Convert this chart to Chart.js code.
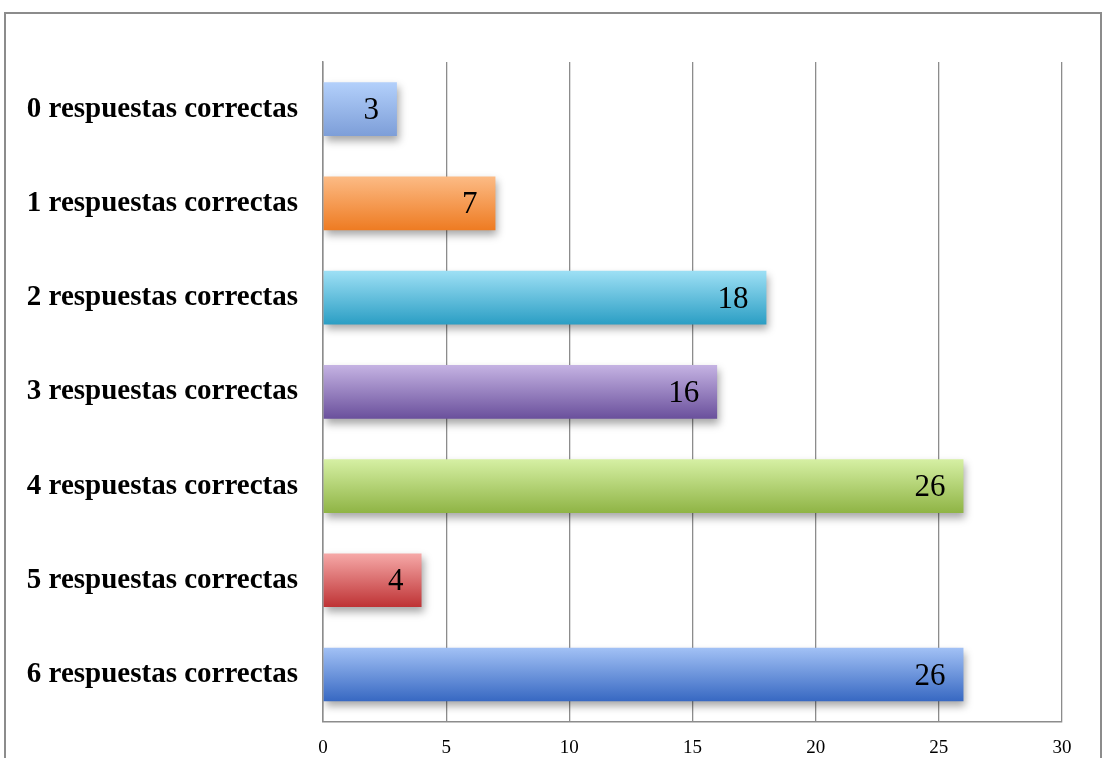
<!DOCTYPE html>
<html>
<head>
<meta charset="utf-8">
<script src="https://cdn.jsdelivr.net/npm/chart.js@4/dist/chart.umd.min.js"></script>
<style>
  html, body { margin: 0; padding: 0; background: #fff; overflow: hidden; }
  #frame { position: absolute; left: 4px; top: 12px; width: 1094px; height: 800px; border: 2px solid #8c8c8c; }
  #wrap { position: absolute; left: 0; top: 0; width: 1102px; height: 764px; }
</style>
</head>
<body>
<div id="frame"></div>
<div id="wrap"><canvas id="chart"></canvas></div>
<script>
// categorías y valores
const categorias = [
  '0 respuestas correctas',
  '1 respuestas correctas',
  '2 respuestas correctas',
  '3 respuestas correctas',
  '4 respuestas correctas',
  '5 respuestas correctas',
  '6 respuestas correctas'
];
const valores = [3, 7, 18, 16, 26, 4, 26];
const ticksX = [0, 5, 10, 15, 20, 25, 30];

// colores del degradado (arriba, abajo)
const coloresArriba = ['#b3d0fb', '#fcbb85', '#9ee0f5', '#c5b3e3', '#d6f0a4', '#f6a9a8', '#a2c1f5'];
const coloresAbajo  = ['#7d9ed8', '#ee7b22', '#2b9ec4', '#6a509c', '#8fb445', '#be3234', '#3768c2'];

const BAR_PCT = 0.57;

function degradado(context) {
  const chart = context.chart;
  const area = chart.chartArea;
  const i = context.dataIndex;
  if (!area) return coloresAbajo[i];
  const y = chart.scales.y.getPixelForValue(i);
  const h = area.height / categorias.length * BAR_PCT;
  const g = chart.ctx.createLinearGradient(0, y - h / 2, 0, y + h / 2);
  g.addColorStop(0, coloresArriba[i]);
  g.addColorStop(1, coloresAbajo[i]);
  return g;
}

// sombra debajo de las barras
const sombra = {
  id: 'sombra',
  beforeDatasetsDraw(chart) {
    const ctx = chart.ctx;
    ctx.save();
    ctx.shadowColor = 'rgba(0,0,0,0.35)';
    ctx.shadowBlur = 8;
    ctx.shadowOffsetX = 2;
    ctx.shadowOffsetY = 5;
  },
  afterDatasetsDraw(chart) {
    chart.ctx.restore();
  }
};

// etiquetas de valor dentro de la barra
const etiquetas = {
  id: 'etiquetas',
  afterDraw(chart) {
    const ctx = chart.ctx;
    const meta = chart.getDatasetMeta(0);
    ctx.save();
    ctx.fillStyle = '#000';
    ctx.font = '31px "Liberation Serif", serif';
    ctx.textAlign = 'right';
    ctx.textBaseline = 'middle';
    meta.data.forEach((bar, i) => {
      ctx.fillText(String(valores[i]), bar.x - 18, bar.y + 2);
    });
    ctx.restore();
  }
};

new Chart(document.getElementById('chart'), {
  type: 'bar',
  data: {
    labels: categorias,
    datasets: [{
      data: valores,
      backgroundColor: degradado,
      borderWidth: 0,
      categoryPercentage: 1,
      barPercentage: BAR_PCT
    }]
  },
  options: {
    indexAxis: 'y',
    responsive: true,
    maintainAspectRatio: false,
    animation: false,
    layout: { padding: { top: 62, right: 40, left: 0, bottom: 0 } },
    plugins: {
      legend: { display: false },
      tooltip: { enabled: false }
    },
    scales: {
      x: {
        min: 0,
        max: 30,
        afterBuildTicks(axis) {
          axis.ticks = ticksX.map(v => ({ value: v }));
        },
        afterFit(axis) { axis.height = 36; },
        grid: { color: '#8c8c8c', lineWidth: 1.3, drawTicks: false },
        border: { color: '#8c8c8c', width: 1.5 },
        ticks: {
          color: '#000',
          padding: 15,
          font: { family: '"Liberation Serif", serif', size: 19 }
        }
      },
      y: {
        afterFit(axis) { axis.width = 323; },
        grid: { display: false, drawTicks: false },
        border: { color: '#8c8c8c', width: 1.5 },
        ticks: {
          color: '#000',
          padding: 25,
          font: { family: '"Liberation Serif", serif', size: 29, weight: 'bold' }
        }
      }
    }
  },
  plugins: [sombra, etiquetas]
});
</script>
</body>
</html>
